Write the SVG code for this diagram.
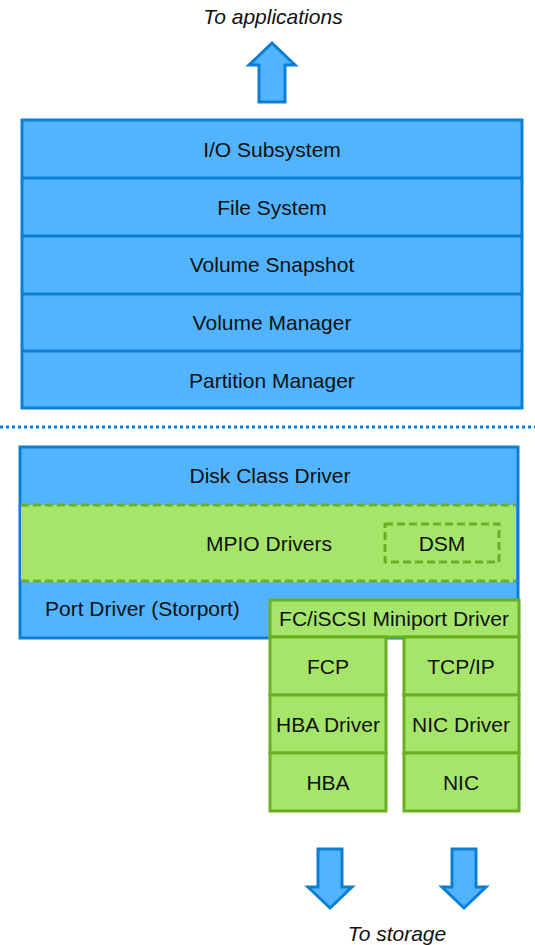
<svg xmlns="http://www.w3.org/2000/svg" width="535" height="945" viewBox="0 0 535 945">
<style>
text{font-family:"Liberation Sans",Arial,sans-serif;font-size:21px;fill:#111;text-anchor:middle}
.it{font-style:italic}
.l{text-anchor:start}
.b{fill:#52B4FF;stroke:#0A7FD4;stroke-width:3}
.bl{fill:none;stroke:#0A7FD4;stroke-width:3}
.g{fill:#A5E66A;stroke:#6AAF23;stroke-width:3}
.gd{fill:none;stroke:#6AAF23;stroke-width:3;stroke-dasharray:8 4}
.arr{fill:#52B4FF;stroke:#0A7FD4;stroke-width:3;stroke-linejoin:miter}
</style>
<rect width="535" height="945" fill="#fff"/>
<text class="it" x="273" y="24">To applications</text>
<g id="arrow-up"><path class="arr" d="M259,102 L259,65 L249,65 L272,43 L295,65 L285,65 L285,102 Z"/></g>
<g id="upper-stack">
<rect class="b" x="22" y="120" width="500" height="288"/>
<g id="io"><line class="bl" x1="22" y1="178" x2="522" y2="178"/><text x="272" y="157">I/O Subsystem</text></g>
<g id="fs"><line class="bl" x1="22" y1="236" x2="522" y2="236"/><text x="272" y="215">File System</text></g>
<g id="vs"><line class="bl" x1="22" y1="294" x2="522" y2="294"/><text x="272" y="272">Volume Snapshot</text></g>
<g id="vm"><line class="bl" x1="22" y1="351" x2="522" y2="351"/><text x="272" y="330">Volume Manager</text></g>
<g id="pm"><text x="272" y="388">Partition Manager</text></g>
</g>
<line x1="0" y1="427" x2="535" y2="427" stroke="#0A7FD4" stroke-width="3" stroke-dasharray="3 3"/>
<g id="lower">
<rect class="b" x="20" y="447" width="498" height="191"/>
<text x="270" y="483">Disk Class Driver</text>
<g id="mpio">
<rect x="21" y="505" width="495" height="77" fill="#A5E66A"/>
<line class="gd" x1="21" y1="505" x2="516" y2="505"/>
<line class="gd" x1="21" y1="581" x2="516" y2="581"/>
<text x="269" y="551">MPIO Drivers</text>
</g>
<g id="dsm"><rect class="gd" x="385" y="524" width="114" height="38"/><text x="442" y="551">DSM</text></g>
<text class="l" x="45" y="616">Port Driver (Storport)</text>
</g>
<g id="miniport"><rect class="g" x="270" y="600" width="249" height="37"/><text x="394" y="626">FC/iSCSI Miniport Driver</text></g>
<g id="fcp"><rect class="g" x="270" y="637" width="116" height="58"/><text x="328" y="674">FCP</text></g>
<g id="hbadrv"><rect class="g" x="270" y="695" width="116" height="58"/><text x="328" y="732">HBA Driver</text></g>
<g id="hba"><rect class="g" x="270" y="753" width="116" height="58"/><text x="328" y="790">HBA</text></g>
<g id="tcpip"><rect class="g" x="404" y="637" width="115" height="58"/><text x="461" y="674">TCP/IP</text></g>
<g id="nicdrv"><rect class="g" x="404" y="695" width="115" height="58"/><text x="461" y="732">NIC Driver</text></g>
<g id="nic"><rect class="g" x="404" y="753" width="115" height="58"/><text x="461" y="790">NIC</text></g>
<g id="arrows-down">
<path class="arr" d="M318,849 L342,849 L342,887 L352,887 L330,908 L308,887 L318,887 Z"/>
<path class="arr" d="M452,849 L476,849 L476,887 L486,887 L464,908 L442,887 L452,887 Z"/>
</g>
<text class="it" x="397" y="941">To storage</text>
</svg>
